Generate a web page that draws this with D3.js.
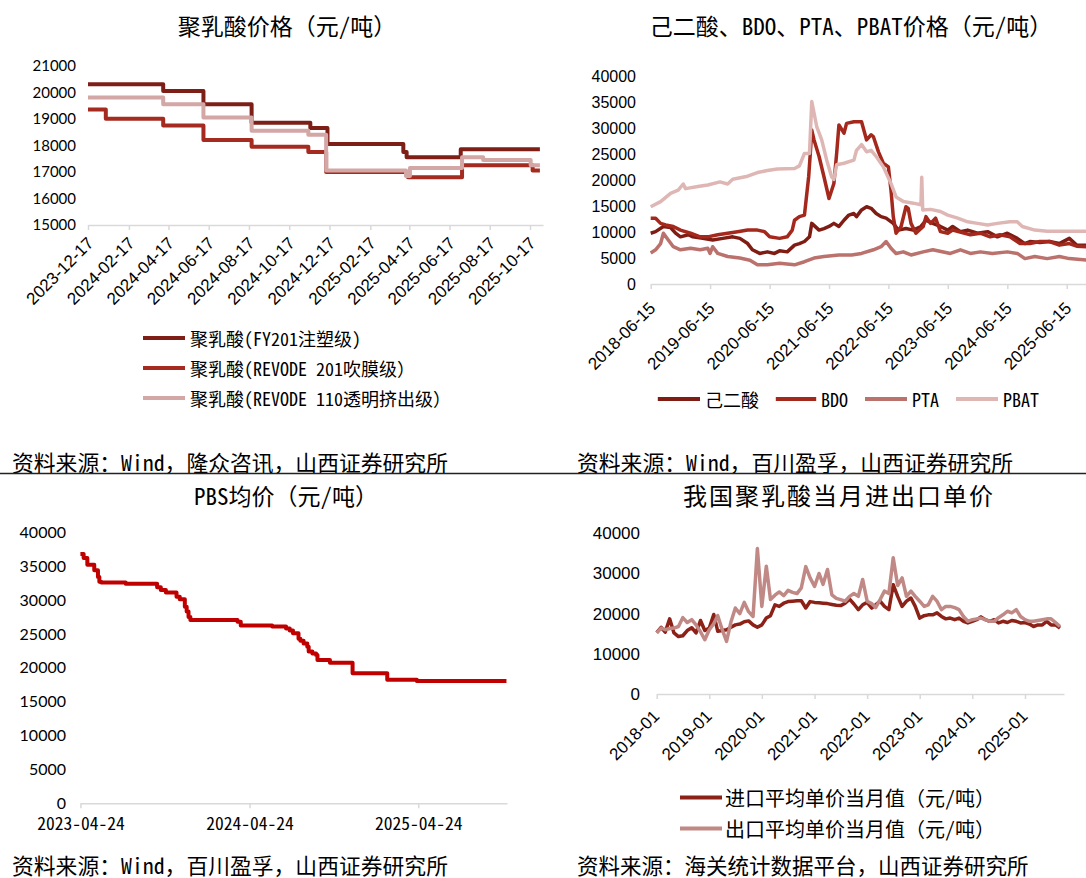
<!DOCTYPE html>
<html><head><meta charset="utf-8">
<script src="https://cdn.jsdelivr.net/npm/d3@7"></script>
<style>
body{margin:0;background:#fff;}
svg{display:block;}
</style></head><body>
<svg id="c" width="1086" height="878"></svg>
<script>
// ---------------- DATA ----------------
// Panel 1: 聚乳酸价格 (step series: change points)
const plaTicks = ["2023-12-17","2024-02-17","2024-04-17","2024-06-17","2024-08-17","2024-10-17","2024-12-17","2025-02-17","2025-04-17","2025-06-17","2025-08-17","2025-10-17"];
const plaYTicks = [15000,16000,17000,18000,19000,20000,21000];
const plaFY201 = [["2023-12-17",20300],["2024-04-09",20050],["2024-06-09",19550],["2024-08-21",18850],["2024-11-18",18650],["2024-12-14",18050],["2025-04-08",17750],["2025-04-13",17550],["2025-07-04",17850],["2025-11-01",17850]];
const plaR201 = [["2023-12-17",19350],["2024-01-13",19000],["2024-04-09",18750],["2024-06-09",18200],["2024-08-21",17950],["2024-11-15",17750],["2024-12-12",17000],["2025-04-15",16800],["2025-07-06",17250],["2025-10-21",17050],["2025-11-01",17050]];
const plaR110 = [["2023-12-17",19800],["2024-04-09",19550],["2024-06-09",19050],["2024-08-21",18550],["2024-11-15",18400],["2024-12-12",17050],["2025-04-12",16850],["2025-04-18",17150],["2025-07-06",17550],["2025-08-07",17450],["2025-10-18",17250],["2025-11-01",17250]];
const plaNames = ["聚乳酸(FY201注塑级)","聚乳酸(REVODE 201吹膜级）","聚乳酸(REVODE 110透明挤出级）"];

// Panel 2: 己二酸、BDO、PTA、PBAT
const rawTicks = ["2018-06-15","2019-06-15","2020-06-15","2021-06-15","2022-06-15","2023-06-15","2024-06-15","2025-06-15"];
const rawYTicks = [0,5000,10000,15000,20000,25000,30000,35000,40000];
const adipic = [["2018-06-15",9800],["2018-07-15",10100],["2018-09-01",11100],["2018-10-15",10900],["2018-11-15",9800],["2018-12-15",9100],["2019-02-01",9500],["2019-03-01",9100],["2019-05-01",8800],["2019-07-01",8500],["2019-09-01",8800],["2019-11-01",9100],["2019-12-15",8800],["2020-02-01",7800],["2020-03-01",6600],["2020-04-15",5900],["2020-06-01",6200],["2020-07-15",5900],["2020-08-15",6400],["2020-10-01",6200],["2020-11-15",7500],["2020-12-15",7800],["2021-01-15",8200],["2021-02-15",9100],["2021-03-01",11700],["2021-04-15",10400],["2021-05-15",10700],["2021-06-15",11100],["2021-07-15",11700],["2021-08-15",11100],["2021-09-15",12300],["2021-10-15",13300],["2021-11-15",13600],["2021-12-01",13000],["2022-01-01",14300],["2022-02-01",14900],["2022-03-01",14600],["2022-04-01",13600],["2022-05-01",13000],["2022-06-01",12700],["2022-07-15",11700],["2022-08-15",10400],["2022-10-01",10700],["2022-11-15",10400],["2023-01-01",11100],["2023-02-01",12300],["2023-03-15",11700],["2023-05-01",11100],["2023-06-15",10400],["2023-07-15",11100],["2023-09-01",10100],["2023-10-15",10400],["2023-12-15",9800],["2024-02-15",10100],["2024-04-15",9100],["2024-06-15",9800],["2024-08-15",8800],["2024-10-01",7800],["2024-11-01",8200],["2025-01-01",8000],["2025-03-01",8200],["2025-05-01",7800],["2025-07-01",8800],["2025-08-15",7500],["2025-10-15",7500]];
const bdo = [["2018-06-15",12700],["2018-07-15",12700],["2018-08-15",11700],["2018-09-15",11400],["2018-11-01",11100],["2018-12-15",10400],["2019-02-15",9800],["2019-04-15",9100],["2019-06-01",9100],["2019-08-01",9500],["2019-10-01",9800],["2019-12-01",10100],["2020-02-01",10400],["2020-04-01",10400],["2020-05-15",10100],["2020-06-15",9100],["2020-08-15",8800],["2020-10-01",9100],["2020-11-01",10400],["2020-11-15",12300],["2020-12-15",13000],["2021-01-15",13300],["2021-02-10",20700],["2021-02-20",25200],["2021-03-01",29700],["2021-03-15",27800],["2021-04-15",24600],["2021-05-15",20700],["2021-06-15",16500],["2021-07-15",19400],["2021-08-01",25200],["2021-08-15",30700],["2021-09-15",29100],["2021-10-01",31000],["2021-11-15",31300],["2022-01-01",31300],["2022-02-01",27800],["2022-03-01",28800],["2022-03-15",28400],["2022-04-15",25500],["2022-05-15",23300],["2022-06-15",22600],["2022-07-01",18100],["2022-07-15",13000],["2022-08-01",9800],["2022-09-01",11100],["2022-10-01",14900],["2022-10-15",14600],["2022-11-01",11700],["2022-12-01",9800],["2023-01-15",11100],["2023-02-01",13000],["2023-03-01",11700],["2023-04-01",12700],["2023-05-01",10100],["2023-06-15",9800],["2023-07-15",10400],["2023-11-01",9500],["2024-01-01",9800],["2024-03-01",9100],["2024-05-01",9500],["2024-07-01",9100],["2024-09-01",7800],["2024-11-01",7800],["2025-01-01",8200],["2025-03-01",8200],["2025-05-01",7500],["2025-07-01",7800],["2025-08-15",7300],["2025-10-15",7200]];
const pta = [["2018-06-15",6000],["2018-07-15",6600],["2018-08-15",7800],["2018-09-01",9800],["2018-10-01",8500],["2018-11-01",7200],["2018-12-15",6600],["2019-02-15",6900],["2019-04-15",6600],["2019-06-01",6900],["2019-06-15",5900],["2019-07-01",7200],["2019-08-01",5900],["2019-10-01",5300],["2019-12-15",5000],["2020-02-15",4600],["2020-04-01",3700],["2020-06-01",3700],["2020-08-15",4000],["2020-11-15",3700],["2021-01-15",4300],["2021-03-15",5000],["2021-05-15",5300],["2021-08-15",5600],["2021-11-01",5600],["2022-01-01",5900],["2022-03-15",6600],["2022-05-01",7200],["2022-06-01",8200],["2022-07-01",6900],["2022-08-01",5900],["2022-09-15",6200],["2022-11-01",5600],["2023-01-15",6200],["2023-03-15",6600],["2023-07-01",5900],["2023-09-01",6600],["2023-11-01",5900],["2024-01-01",6200],["2024-03-15",5900],["2024-06-15",6200],["2024-08-15",5900],["2024-10-01",4900],["2024-12-01",5300],["2025-02-15",4900],["2025-05-01",5300],["2025-07-01",4900],["2025-10-15",4600]];
const pbat = [["2018-06-15",14900],["2018-08-15",15900],["2018-10-15",17500],["2018-12-01",18100],["2019-01-01",19300],["2019-01-15",18400],["2019-04-01",18800],["2019-06-01",19100],["2019-08-15",19700],["2019-10-01",19300],["2019-11-01",20200],["2020-02-01",20800],["2020-04-01",21500],["2020-06-01",21900],["2020-08-01",22200],["2020-11-15",22300],["2020-12-15",22800],["2021-01-15",25200],["2021-02-15",25200],["2021-03-01",35200],["2021-04-01",30300],["2021-05-01",27800],["2021-06-01",23900],["2021-07-01",20700],["2021-07-15",20200],["2021-08-01",23000],["2021-09-15",23300],["2021-11-15",23900],["2021-12-01",25800],["2022-01-01",26900],["2022-02-01",25500],["2022-03-01",25800],["2022-04-01",24600],["2022-05-15",22600],["2022-07-01",19400],["2022-08-01",16800],["2022-09-15",15900],["2022-11-15",15600],["2023-01-01",15300],["2023-01-06",20600],["2023-01-12",14300],["2023-03-01",14400],["2023-05-01",14000],["2023-06-15",13300],["2023-08-15",12700],["2023-10-15",12000],["2023-12-15",11700],["2024-02-15",11400],["2024-04-15",11700],["2024-07-01",12000],["2024-08-15",12000],["2024-09-15",11100],["2024-12-01",10400],["2025-02-15",10200],["2025-10-15",10200]];
const rawNames = ["己二酸","BDO","PTA","PBAT"];

// Panel 3: PBS均价 (step series)
const pbsTicks = ["2023-04-24","2024-04-24","2025-04-24"];
const pbsYTicks = [0,5000,10000,15000,20000,25000,30000,35000,40000];
const pbs = [["2023-04-24",36800],["2023-05-01",36200],["2023-05-09",35200],["2023-05-24",34400],["2023-06-01",33400],["2023-06-04",32700],["2023-06-08",32600],["2023-07-31",32400],["2023-10-07",31900],["2023-10-15",31500],["2023-10-26",31100],["2023-11-18",30500],["2023-11-25",30100],["2023-12-06",29000],["2023-12-10",28300],["2023-12-14",27500],["2023-12-18",27050],["2024-03-29",26800],["2024-04-05",26250],["2024-06-12",26100],["2024-07-12",25800],["2024-07-20",25500],["2024-07-27",25100],["2024-08-08",24300],["2024-08-12",24000],["2024-08-19",23600],["2024-08-27",23100],["2024-08-30",22400],["2024-09-07",22100],["2024-09-15",21900],["2024-09-18",21150],["2024-10-15",20750],["2024-12-03",19200],["2025-02-16",18250],["2025-04-21",18050],["2025-11-01",18050]];

// Panel 4: 我国聚乳酸当月进出口单价 (monthly)
const tradeTicks = ["2018-01","2019-01","2020-01","2021-01","2022-01","2023-01","2024-01","2025-01"];
const tradeYTicks = [0,10000,20000,30000,40000];
const tradeMonths = [
"2018-01","2018-02","2018-03","2018-04","2018-05","2018-06","2018-07","2018-08","2018-09","2018-10","2018-11","2018-12",
"2019-01","2019-02","2019-03","2019-04","2019-05","2019-06","2019-07","2019-08","2019-09","2019-10","2019-11","2019-12",
"2020-01","2020-02","2020-03","2020-04","2020-05","2020-06","2020-07","2020-08","2020-09","2020-10","2020-11","2020-12",
"2021-01","2021-02","2021-03","2021-04","2021-05","2021-06","2021-07","2021-08","2021-09","2021-10","2021-11","2021-12",
"2022-01","2022-02","2022-03","2022-04","2022-05","2022-06","2022-07","2022-08","2022-09","2022-10","2022-11","2022-12",
"2023-01","2023-02","2023-03","2023-04","2023-05","2023-06","2023-07","2023-08","2023-09","2023-10","2023-11","2023-12",
"2024-01","2024-02","2024-03","2024-04","2024-05","2024-06","2024-07","2024-08","2024-09","2024-10","2024-11","2024-12",
"2025-01","2025-02","2025-03","2025-04","2025-05","2025-06","2025-07","2025-08","2025-09"];
const importPrice = [
15300,16600,15400,18700,15200,14300,14500,15800,16500,15200,18300,15800,
16400,19800,15600,15800,16000,16600,17200,17400,18000,18200,17200,16600,
17200,18900,19500,22200,21800,22600,23000,23100,23200,23200,21400,23000,
22800,22700,22600,22500,22300,22100,22000,22600,23600,22400,21000,22200,
22800,21400,22200,23100,21800,21000,27200,24300,21800,23100,23900,21800,
18900,19500,19700,19700,20200,19300,18700,18900,18500,18900,18100,17700,
18100,18500,19200,18500,18100,18500,17700,18100,17800,18300,18100,17700,
17800,17400,16800,17200,17200,18100,17200,17200,16400];
const exportPrice = [
15200,16400,16000,16300,16400,16800,19000,17800,18500,17200,15500,13500,
16000,17500,19500,16000,13100,18000,21400,20000,22800,20500,19300,36200,
21800,31800,23500,24600,25400,24500,25800,25300,25000,26400,31700,28900,
26800,30000,27300,31000,24700,23800,23500,23100,24300,25000,24300,28500,
23100,22500,21500,23500,25600,25000,33900,27000,28900,24300,25600,24300,
23100,21800,22200,24300,23100,21000,21800,21800,21500,21000,19300,18100,
18500,18700,18900,18500,18100,18100,19000,19700,20600,20200,21000,19300,
18500,18100,18100,18300,18500,18700,18700,17800,16800];
const tradeNames = ["进口平均单价当月值（元/吨）","出口平均单价当月值（元/吨）"];

// ---------------- DRAW ----------------
const svg = d3.select("#c");
const CJK = '"Noto Sans Mono CJK SC","Noto Sans CJK SC","Noto Sans CJK JP",sans-serif';
const ARIAL = '"Liberation Sans",Arial,sans-serif';
const LATO = 'Lato,"Open Sans",sans-serif';
const pD = d3.timeParse("%Y-%m-%d");
const pM = d3.timeParse("%Y-%m");
const AXC = "#D9D9D9";

function makeX(d0, d1, r0, r1, rEnd){
  const s = d3.scaleTime().domain([d0,d1]).range([r0,r1]);
  const e = s.invert(rEnd);
  return s.domain([d0,e]).range([r0,rEnd]);
}

function panel(o){
  const g = svg.append("g");
  const ax = d3.axisBottom(o.x).tickValues(o.ticks).tickSize(5).tickSizeOuter(0).tickFormat(o.fmt);
  const gx = g.append("g").attr("transform",`translate(0,${o.axisY})`).call(ax);
  gx.select(".domain").attr("stroke",AXC).attr("stroke-width",1.5);
  gx.selectAll(".tick line").attr("stroke",AXC).attr("stroke-width",1.5);
  const tx = gx.selectAll(".tick text").attr("fill","#000").style("font-family",o.xFont).style("font-size",o.xSize+"px");
  if(o.rotate){
    tx.attr("x",0).attr("y",0).attr("dy","0.35em")
      .attr("transform",`translate(${o.rdx},${o.rdy}) rotate(-45)`)
      .style("text-anchor","end");
  } else {
    tx.attr("y",o.xLabelDy).attr("dy","0.35em");
  }
  const ay = d3.axisLeft(o.y).tickValues(o.yTicks).tickSize(0).tickPadding(0).tickFormat(d3.format("d"));
  const gy = g.append("g").attr("transform",`translate(${o.yLabelX},0)`).call(ay);
  gy.select(".domain").remove();
  gy.selectAll(".tick text").attr("fill","#000").style("font-family",o.yFont).style("font-size",o.ySize+"px");
  o.series.forEach(s=>{
    const line = d3.line().x(d=>o.x(s.px(d))).y(d=>o.y(s.py(d))).curve(s.curve||d3.curveLinear);
    g.append("path").datum(s.data).attr("d",line).attr("fill","none")
      .attr("stroke",s.color).attr("stroke-width",s.w).attr("stroke-linejoin","round").attr("stroke-linecap","butt");
  });
  return g;
}

function text(x,y,str,size,opts={}){
  return svg.append("text").attr("x",x).attr("y",y).attr("dominant-baseline","central")
    .attr("text-anchor",opts.anchor||"start").style("font-family",opts.font||CJK)
    .style("font-size",size+"px").style("letter-spacing",opts.ls||"0px").attr("fill","#000").text(str);
}
function swatch(x0,x1,y,color,w){
  svg.append("line").attr("x1",x0).attr("x2",x1).attr("y1",y).attr("y2",y).attr("stroke",color).attr("stroke-width",w);
}

// ---- Panel 1 ----
const c1 = ["#7E1F17","#A52A1F","#D3A7A5"];
const x1 = makeX(pD(plaTicks[0]), pD(plaTicks[plaTicks.length-1]), 88, 530, 543);
const y1 = d3.scaleLinear().domain([15000,21000]).range([225,65.7]);
const pr = d=>pD(d[0]), pv = d=>d[1];
panel({x:x1,y:y1,axisY:225,ticks:plaTicks.map(pD),fmt:d3.timeFormat("%Y-%m-%d"),
  rotate:true,rdx:2,rdy:15,xFont:ARIAL,xSize:17,
  yTicks:plaYTicks,yLabelX:76,yFont:LATO,ySize:15,
  series:[{data:plaFY201,px:pr,py:pv,color:c1[0],w:4,curve:d3.curveStepAfter},
          {data:plaR201,px:pr,py:pv,color:c1[1],w:4,curve:d3.curveStepAfter},
          {data:plaR110,px:pr,py:pv,color:c1[2],w:4,curve:d3.curveStepAfter}]});
text(287,25,"聚乳酸价格（元/吨）",23,{anchor:"middle"});
[338,368,398].forEach((yy,i)=>{ swatch(143,185,yy,c1[i],4); text(190,yy,plaNames[i],18); });
text(12,461,"资料来源：Wind，隆众咨讯，山西证券研究所",21.8);

// ---- Panel 2 ----
const c2 = ["#7F1D14","#A5281C","#BB716C","#DEB7B5"];
const x2 = makeX(pD(rawTicks[0]), pD(rawTicks[rawTicks.length-1]), 650.7, 1066.7, 1086);
const y2 = d3.scaleLinear().domain([0,40000]).range([284,76.7]);
panel({x:x2,y:y2,axisY:284,ticks:rawTicks.map(pD),fmt:d3.timeFormat("%Y-%m-%d"),
  rotate:true,rdx:1,rdy:21,xFont:ARIAL,xSize:17,
  yTicks:rawYTicks,yLabelX:636,yFont:ARIAL,ySize:16,
  series:[adipic,bdo,pta,pbat].map((s,i)=>({data:s,px:pr,py:pv,color:c2[i],w:3.5}))});
text(851,25,"己二酸、BDO、PTA、PBAT价格（元/吨）",23,{anchor:"middle"});
const leg2 = [[657.8,700,705],[775.8,816.2,821],[865,907,912],[956,998,1003]];
leg2.forEach((l,i)=>{ swatch(l[0],l[1],399,c2[i],4); text(l[2],399,rawNames[i],18); });
text(577,461,"资料来源：Wind，百川盈孚，山西证券研究所",21.8);

// divider
svg.append("line").attr("x1",0).attr("x2",1086).attr("y1",473.5).attr("y2",473.5).attr("stroke","#222").attr("stroke-width",1.5);

// ---- Panel 3 ----
const x3 = makeX(pD(pbsTicks[0]), pD(pbsTicks[pbsTicks.length-1]), 80.4, 418.2, 507);
const y3 = d3.scaleLinear().domain([0,40000]).range([803.3,532.3]);
panel({x:x3,y:y3,axisY:803.3,ticks:pbsTicks.map(pD),fmt:d3.timeFormat("%Y-%m-%d"),
  rotate:false,xLabelDy:21,xFont:CJK,xSize:17.5,
  yTicks:pbsYTicks,yLabelX:66,yFont:LATO,ySize:16,
  series:[{data:pbs,px:pr,py:pv,color:"#C00000",w:4,curve:d3.curveStepAfter}]});
text(286,495,"PBS均价（元/吨）",23,{anchor:"middle"});
text(12,864,"资料来源：Wind，百川盈孚，山西证券研究所",21.8);

// ---- Panel 4 ----
const c4 = ["#8C2117","#C08985"];
const x4 = makeX(pM(tradeTicks[0]), pM(tradeTicks[tradeTicks.length-1]), 656.7, 1025, 1064);
const y4 = d3.scaleLinear().domain([0,40000]).range([694,533.3]);
const imp = tradeMonths.map((m,i)=>[m,importPrice[i]]);
const exp = tradeMonths.map((m,i)=>[m,exportPrice[i]]);
const mr = d=>pM(d[0]);
panel({x:x4,y:y4,axisY:694,ticks:tradeTicks.map(pM),fmt:d3.timeFormat("%Y-%m"),
  rotate:true,rdx:-1,rdy:19,xFont:ARIAL,xSize:17,
  yTicks:tradeYTicks,yLabelX:640,yFont:ARIAL,ySize:17,
  series:[{data:imp,px:mr,py:pv,color:c4[0],w:3.5},{data:exp,px:mr,py:pv,color:c4[1],w:3.5}]});
text(839,494,"我国聚乳酸当月进出口单价",24,{anchor:"middle",ls:"2px"});
[797.5,828.5].forEach((yy,i)=>{ swatch(680,722,yy,c4[i],4); text(725,yy,tradeNames[i],20); });
text(577,864,"资料来源：海关统计数据平台，山西证券研究所",21.5);
</script>
</body></html>
